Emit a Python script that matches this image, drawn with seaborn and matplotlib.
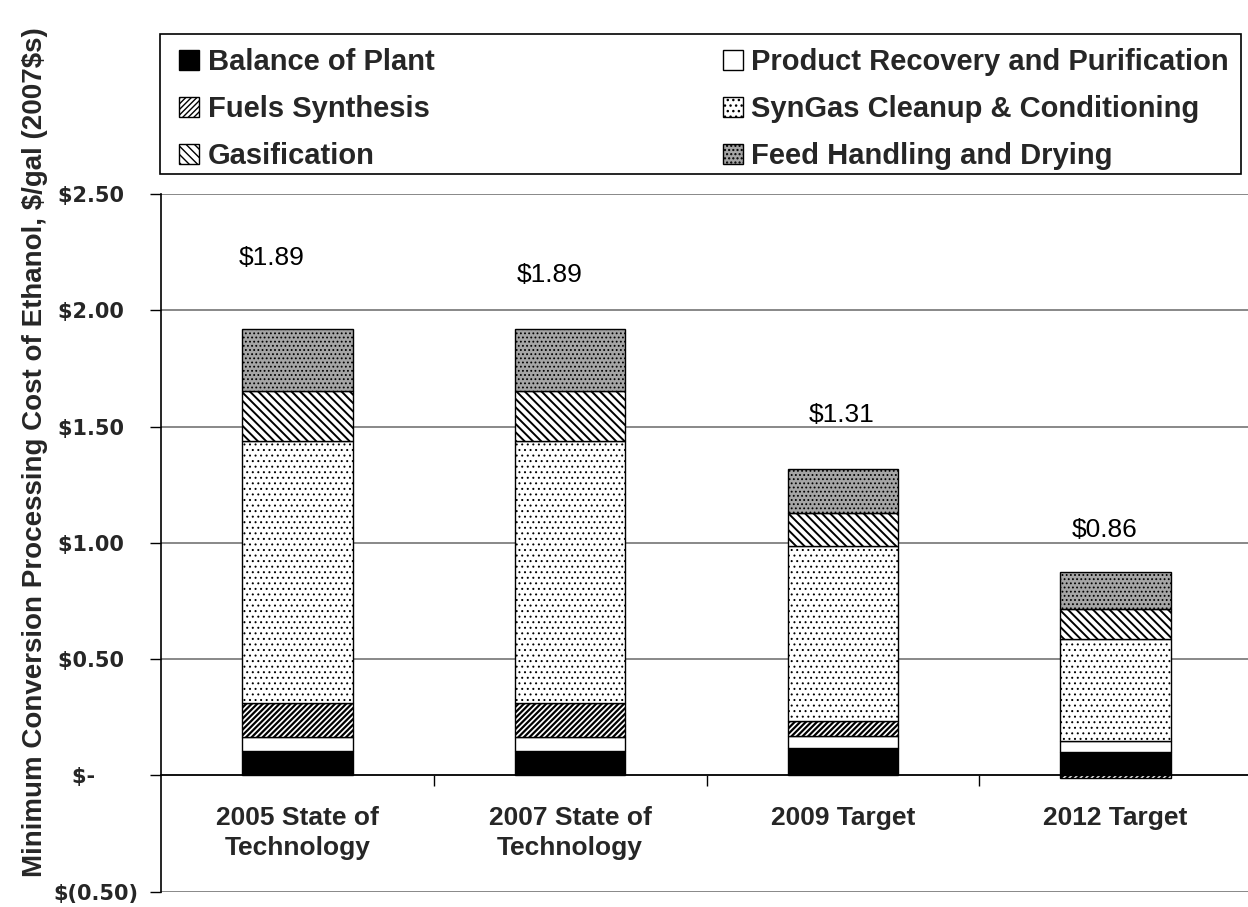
import matplotlib
matplotlib.use("Agg")
import matplotlib.pyplot as plt
import matplotlib.patches as mpatches
import seaborn as sns
import numpy as np
import pandas as pd

# ---------------- data ----------------
categories = ["2005 State of\nTechnology", "2007 State of\nTechnology", "2009 Target", "2012 Target"]
balance_of_plant = [0.107, 0.107, 0.120, 0.102]
product_recovery = [0.057, 0.057, 0.050, 0.046]
fuels_synthesis = [0.146, 0.146, 0.066, -0.012]
syngas_cleanup = [1.129, 1.129, 0.751, 0.439]
gasification = [0.214, 0.214, 0.142, 0.129]
feed_handling = [0.268, 0.268, 0.187, 0.159]
total_labels = ["\\$1.89", "\\$1.89", "\\$1.31", "\\$0.86"]
label_x = [-0.094, 0.925, 1.995, 2.958]
label_y = [2.225, 2.15, 1.55, 1.055]
y_ticks = [-0.5, 0.0, 0.5, 1.0, 1.5, 2.0, 2.5]
y_tick_labels = ["\\$(0.50)", "\\$-      ", "\\$0.50  ", "\\$1.00  ", "\\$1.50  ", "\\$2.00  ", "\\$2.50  "]
y_title = "Minimum Conversion Processing Cost of Ethanol, \\$/gal (2007\\$s)"

series_names = ["Balance of Plant", "Product Recovery and Purification", "Fuels Synthesis",
                "SynGas Cleanup & Conditioning", "Gasification", "Feed Handling and Drying"]
series_values = [balance_of_plant, product_recovery, fuels_synthesis,
                 syngas_cleanup, gasification, feed_handling]
styles = [
    dict(color="black", hatch=None, hlw=1.0),
    dict(color="white", hatch=None, hlw=1.0),
    dict(color="white", hatch="//////", hlw=1.6),
    dict(color="white", hatch="...", hlw=0.7),
    dict(color="white", hatch="\\\\\\\\", hlw=1.4),
    dict(color="#a5a5a5", hatch="....", hlw=0.8),
]

sns.set_theme(style="white")
plt.rcParams["font.family"] = ["Liberation Sans", "DejaVu Sans"]

fig = plt.figure(figsize=(12.48, 9.07), dpi=100)
ax = fig.add_axes([161 / 1248, 1 - 891.7 / 907, (1252 - 161) / 1248, (891.7 - 194) / 907])

df = pd.DataFrame({"category": categories})
pos_bottom = np.zeros(len(categories))
neg_bottom = np.zeros(len(categories))
for name, vals, st in zip(series_names, series_values, styles):
    vals = np.array(vals, dtype=float)
    bottoms = np.where(vals >= 0, pos_bottom, neg_bottom)
    d = df.copy()
    d["value"] = vals
    n_before = len(ax.patches)
    with plt.rc_context({"hatch.linewidth": st["hlw"]}):
        sns.barplot(data=d, x="category", y="value", ax=ax, color=st["color"], saturation=1,
                    width=0.405, bottom=bottoms, hatch=st["hatch"], edgecolor="black",
                    linewidth=1.0, errorbar=None, zorder=3)
    for p in ax.patches[n_before:]:
        if hasattr(p, "set_hatch_linewidth"):
            p.set_hatch_linewidth(st["hlw"])
    pos_bottom = pos_bottom + np.where(vals >= 0, vals, 0)
    neg_bottom = neg_bottom + np.where(vals < 0, vals, 0)

# value labels
for x, y, t in zip(label_x, label_y, total_labels):
    ax.text(x, y, t, ha="center", va="center", fontsize=19, color="black",
            family="Liberation Sans", zorder=5)

ax.set_ylim(-0.5, 2.5)
ax.set_xlim(-0.5, 3.5)
ax.set_yticks(y_ticks)
ax.set_yticklabels(y_tick_labels, fontsize=15, fontweight="bold", family="DejaVu Sans")
ax.tick_params(axis="y", length=8, width=1, direction="out", color="black", pad=8, left=True)
ax.yaxis.grid(True, color="#7f7f7f", linewidth=1.3, zorder=0)
ax.set_axisbelow(True)

ax.set_xlabel("")
ax.set_ylabel(y_title, fontsize=20, fontweight="bold", family="Liberation Sans")
ax.yaxis.set_label_coords(-0.104, 0.630)

ax.set_xticks(range(len(categories)))
ax.set_xticklabels(categories)
ax.tick_params(axis="x", which="major", length=0, pad=22, labelsize=19)
ax.set_xticks([0.5, 1.5, 2.5], minor=True)
ax.tick_params(axis="x", which="minor", length=8, width=1, direction="out", color="black", bottom=True)

ax.spines["bottom"].set_position(("data", 0))
ax.spines["bottom"].set_color("black")
ax.spines["bottom"].set_linewidth(1.2)
ax.spines["bottom"].set_zorder(4)
ax.spines["left"].set_color("black")
ax.spines["left"].set_linewidth(1.2)
ax.spines["top"].set_visible(False)
ax.spines["right"].set_visible(False)

# legend frame (drawn separately) and legend content
frame = mpatches.Rectangle((160 / 1248, 1 - 174 / 907), (1241 - 160) / 1248, 140 / 907,
                           transform=fig.transFigure, facecolor="white", edgecolor="black",
                           linewidth=1.2, zorder=0)
fig.patches.append(frame)

handles = []
for n, st in zip(series_names, styles):
    h = mpatches.Patch(facecolor=st["color"], hatch=st["hatch"], edgecolor="black",
                       linewidth=1.0, label=n)
    handles.append(h)
order = [0, 2, 4, 1, 3, 5]
leg = fig.legend([handles[i] for i in order], [series_names[i] for i in order],
                 ncol=2, mode="expand", loc="upper left",
                 bbox_to_anchor=(179 / 1248, 1 - 174 / 907, (1229 - 179) / 1248, 126 / 907),
                 bbox_transform=fig.transFigure, borderaxespad=0,
                 prop=dict(family="Liberation Sans", weight="bold", size=21),
                 handlelength=0.68, handleheight=0.68, handletextpad=0.3,
                 labelspacing=0.65, borderpad=0.0, frameon=False)

fig.canvas.draw()
for t in ax.get_xticklabels():
    t.set_fontsize(19)
    t.set_fontweight("bold")
    t.set_family("Liberation Sans")
    t.set_linespacing(1.3)

fig.savefig("out.png", dpi=100, facecolor="white")
